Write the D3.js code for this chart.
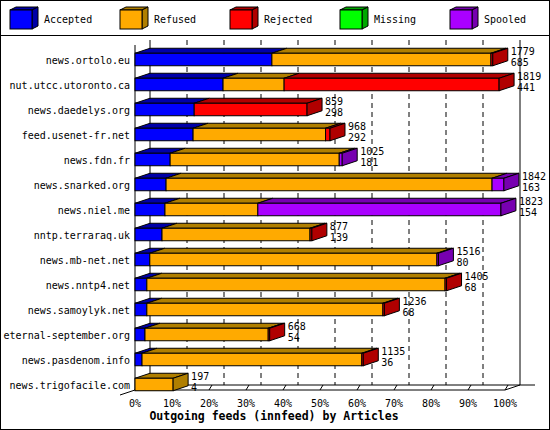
<!DOCTYPE html><html><head><meta charset="utf-8">
<script src="https://cdn.jsdelivr.net/npm/d3@7"></script>
<style>body{margin:0;background:#fff}</style></head><body><svg id="c" width="550" height="430"></svg>
<script>
const hosts=["news.ortolo.eu","nut.utcc.utoronto.ca","news.daedelys.org","feed.usenet-fr.net","news.fdn.fr","news.snarked.org","news.niel.me","nntp.terraraq.uk","news.mb-net.net","news.nntp4.net","news.samoylyk.net","eternal-september.org","news.pasdenom.info","news.trigofacile.com"];
const accepted=[37,23.8,16,15.7,9.5,8.4,8.1,7.3,4,3.2,3.2,2.7,1.9,0];
const refused=[59.2,16.5,0,35.8,45.7,88.1,25.1,40,77.6,80.6,63.8,33.3,59.4,10.3];
const rejected=[0.5,58.1,30.5,1.2,0,0,0,0.5,0,0.4,0.4,0.4,0.4,0];
const missing=[0,0,0,0,0,0,0,0,0,0,0,0,0,0];
const spooled=[0,0,0,0,0.8,3.2,65.7,0,0.4,0,0,0,0,0];
const totals=[1779,1819,859,968,1025,1842,1823,877,1516,1405,1236,668,1135,197];
const seconds=[685,441,298,292,181,163,154,139,80,68,68,54,36,4];
const seriesNames=["Accepted","Refused","Rejected","Missing","Spooled"];
const fronts=["#0000ff","#ffaa00","#ff0000","#00ff00","#aa00ff"];
const sides=["#0000a8","#b07f00","#b00000","#00a800","#7700b0"];
const ticks=[0,10,20,30,40,50,60,70,80,90,100];
const series=[accepted,refused,rejected,missing,spooled];
(function(){
const svg=d3.select("#c"),F="DejaVu Sans Mono";
const DX=15,DY=5;
const x=d3.scaleLinear().domain([0,100]).range([135,505]);
const y=d3.scaleBand().domain(hosts).range([47,397]).paddingInner(0.5).paddingOuter(0.25);
svg.append("rect").attr("x",0.5).attr("y",0.5).attr("width",549).attr("height",429).attr("fill","#fff").attr("stroke","#000");
svg.append("line").attr("x1",0).attr("x2",550).attr("y1",35.5).attr("y2",35.5).attr("stroke","#000");
seriesNames.forEach((n,i)=>{const lx=10+i*110,ly=10;
 const g=svg.append("g");
 g.append("path").attr("d",`M${lx},${ly}L${lx+6},${ly-3}L${lx+28},${ly-3}L${lx+22},${ly}Z`).attr("fill",sides[i]).attr("stroke","#000");
 g.append("path").attr("d",`M${lx+22},${ly}L${lx+28},${ly-3}L${lx+28},${ly+16}L${lx+22},${ly+19}Z`).attr("fill",sides[i]).attr("stroke","#000");
 g.append("rect").attr("x",lx).attr("y",ly).attr("width",22).attr("height",19).attr("fill",fronts[i]).attr("stroke","#000");
 g.append("text").attr("x",lx+34).attr("y",ly+13).attr("font-family",F).attr("font-size",10).text(n);});
const wallTop=40,floor=385;
svg.append("line").attr("x1",x(0)+DX).attr("x2",x(0)+DX).attr("y1",wallTop).attr("y2",floor).attr("stroke","#000");
svg.append("line").attr("x1",x(100)+DX).attr("x2",x(100)+DX).attr("y1",wallTop).attr("y2",floor).attr("stroke","#000");
svg.selectAll(".grid").data(ticks.slice(1,-1)).join("line").attr("x1",d=>x(d)+DX).attr("x2",d=>x(d)+DX).attr("y1",wallTop).attr("y2",floor).attr("stroke","#000").attr("stroke-dasharray","5,4");
svg.append("path").attr("d",`M${x(0)},${floor+5}L${x(0)+DX},${floor}L${535},${floor}M${x(0)},${floor+5}L${x(100)},${floor+5}L${x(100)+DX},${floor}M${x(0)},${floor+5}L${x(0)-15},${floor+10}`).attr("fill","none").attr("stroke","#000");
svg.append("line").attr("x1",x(0)).attr("x2",x(0)).attr("y1",wallTop+5).attr("y2",floor+5).attr("stroke","#000");
svg.selectAll(".tk").data(ticks).join("path").attr("d",d=>`M${x(d)},${floor+5}l3,-5`).attr("stroke","#000").attr("fill","none");
svg.selectAll(".tl").data(ticks).join("text").attr("x",d=>x(d)).attr("y",floor+22).attr("text-anchor","middle").attr("font-family",F).attr("font-size",10).text(d=>d+"%");
svg.append("text").attr("x",274).attr("y",420).attr("text-anchor","middle").attr("font-family",F).attr("font-size",11.5).attr("font-weight","bold").text("Outgoing feeds (innfeed) by Articles");
hosts.forEach((h,r)=>{const y0=y(h),hh=y.bandwidth();let cum=0,last=0;
 const g=svg.append("g");
 series.forEach((s,i)=>{const v=s[r];if(v<=0)return;const a=x(cum),b=x(cum+v);cum+=v;last=i;
  g.append("path").attr("d",`M${a},${y0}L${a+DX},${y0-DY}L${b+DX},${y0-DY}L${b},${y0}Z`).attr("fill",sides[i]).attr("stroke","#000");
  g.append("rect").attr("x",a).attr("y",y0).attr("width",b-a).attr("height",hh).attr("fill",fronts[i]).attr("stroke","#000");});
 const e=x(cum);
 g.append("path").attr("d",`M${e},${y0}L${e+DX},${y0-DY}L${e+DX},${y0+hh-DY}L${e},${y0+hh}Z`).attr("fill",sides[last]).attr("stroke","#000");
 const cy=y0+hh/2;
 svg.append("text").attr("x",x(0)-5).attr("y",cy+4).attr("text-anchor","end").attr("font-family",F).attr("font-size",10).text(h);
 svg.append("text").attr("x",e+DX+3).attr("y",cy-5).attr("font-family",F).attr("font-size",10).text(totals[r]);
 svg.append("text").attr("x",e+DX+3).attr("y",cy+6).attr("font-family",F).attr("font-size",10).text(seconds[r]);
});
})();
</script></body></html>
